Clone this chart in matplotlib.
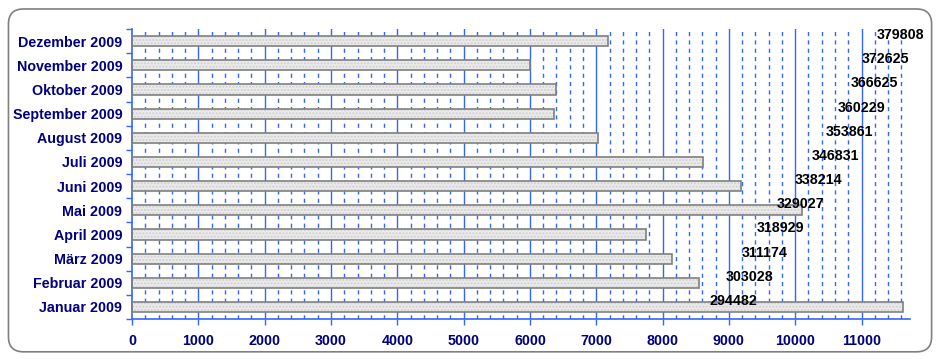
import matplotlib.pyplot as plt
import numpy as np
from matplotlib.patches import FancyBboxPatch

months = ['Januar 2009', 'Februar 2009', 'März 2009', 'April 2009', 'Mai 2009',
          'Juni 2009', 'Juli 2009', 'August 2009', 'September 2009',
          'Oktober 2009', 'November 2009', 'Dezember 2009']
monthly = [11630, 8546, 8146, 7755, 10098, 9187, 8617, 7030, 6368, 6396, 6000, 7183]
totals = [294482, 303028, 311174, 318929, 329027, 338214, 346831, 353861,
          360229, 366625, 372625, 379808]

blue = '#3366ff'
navy = '#000080'

plt.rcParams['font.family'] = ['Liberation Sans', 'DejaVu Sans']

fig = plt.figure(figsize=(9.41, 3.59), dpi=100)
frame = FancyBboxPatch((0.009, 0.02), 0.981, 0.955,
                       boxstyle='round,pad=0,rounding_size=0.016',
                       transform=fig.transFigure, facecolor='none',
                       edgecolor='#808080', lw=1.2, mutation_aspect=2.6, zorder=-1)
fig.patches.append(frame)

ax = fig.add_axes([0.1403, 0.1114, 0.967 - 0.1403, 0.919 - 0.1114])
ax.set_facecolor('none')
y = np.arange(len(months))

# grid
for gx in np.arange(200, 11601, 200):
    if gx % 1000 == 0:
        ax.axvline(gx, color=blue, lw=1, zorder=0)
    else:
        ax.axvline(gx, color=blue, lw=1, ls=(0, (3, 3)), zorder=0)

ax.barh(y, monthly, height=0.42, color='#ebebeb', edgecolor='#cfcfcf',
        hatch='.....', lw=0, zorder=2)
ax.barh(y, monthly, height=0.42, color='none', edgecolor='#808080', lw=1.2, zorder=3)

ax.set_xlim(0, 11730)
ax.set_ylim(-0.5, len(months) - 0.5)
ax.set_xticks(np.arange(0, 11001, 1000))
ax.set_yticks(y)
ax.set_yticklabels(months)
ax.set_yticks(np.arange(-0.5, len(months), 1), minor=True)
ax.tick_params(axis='y', which='major', length=0, pad=7)
ax.tick_params(axis='y', which='minor', length=4, color=blue, width=1)
ax.tick_params(axis='x', length=4, color=blue, width=1, pad=7)
for lbl in ax.get_xticklabels() + ax.get_yticklabels():
    lbl.set_fontweight('bold')
    lbl.set_color(navy)
    lbl.set_fontsize(10.3)

for side in ['top', 'right']:
    ax.spines[side].set_visible(False)
for side in ['left', 'bottom']:
    ax.spines[side].set_color(blue)
    ax.spines[side].set_linewidth(1.2)

# cumulative totals on a hidden secondary axis
ax2 = ax.twiny()
ax2.set_xlim(0, 397000)
ax2.set_ylim(ax.get_ylim())
ax2.axis('off')
for yi, t in zip(y, totals):
    ax2.text(t, yi + 0.25, str(t), ha='left', va='center', fontsize=10.3,
             fontweight='bold', color='black', zorder=5)

fig.savefig('out.png', dpi=100)
